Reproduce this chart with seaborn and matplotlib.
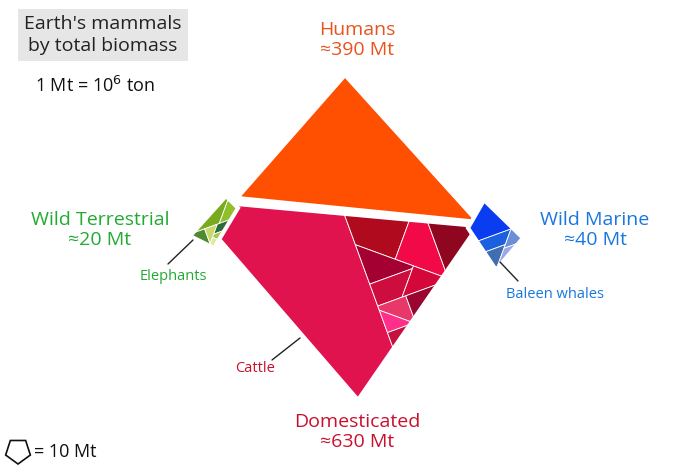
import numpy as np
import matplotlib.pyplot as plt
import seaborn as sb
from matplotlib.patches import Polygon, RegularPolygon

sb.set_theme(style="white")
plt.rcParams['font.family'] = ['Open Sans', 'DejaVu Sans']

# biomass in Mt
human_vals = [390]
dom_names = ['cattle', 'buffalo', 'pigs', 'sheep', 'goats', 'horses', 'camels', 'donkeys', 'dogs', 'cats', 'other']
dom_vals = [420, 45, 40, 30, 25, 20, 15, 12, 10, 8, 5]
dom_colors = ['#e0134f', '#b00a1e', '#f20a48', '#8e0620', '#a40032', '#cc0d3e', '#d4073a',
              '#e8386a', '#9a0530', '#ff2f8a', '#c4123f']
wt_vals = [7, 4, 3, 2, 2, 1, 1]
wt_colors = ['#77aa1c', '#8fbf2a', '#4e8a2f', '#c8d86a', '#2e6b3a', '#a9c94a', '#e0e8a0']
wm_vals = [20, 8, 5, 4, 3]
wm_colors = ['#0a3cf0', '#1a60e0', '#3f6fb0', '#6a8fd8', '#9aa8e8']


def area(p):
    x, y = p[:, 0], p[:, 1]
    return 0.5 * abs(np.dot(x, np.roll(y, 1)) - np.dot(y, np.roll(x, 1)))


def clip(p, n, c):
    # keep points with dot(n, pt) <= c
    out = []
    m = len(p)
    for i in range(m):
        a, b = p[i], p[(i + 1) % m]
        da, db = a @ n - c, b @ n - c
        if da <= 0:
            out.append(a)
        if da * db < 0:
            t = da / (da - db)
            out.append(a + t * (b - a))
    return np.array(out)


def split(poly, vals, depth=0):
    if len(vals) == 1:
        return [poly]
    tot = sum(vals)
    k = 1
    for k in range(1, len(vals)):
        if sum(vals[:k]) >= tot / 2:
            break
    frac = sum(vals[:k]) / tot
    ext = poly.max(0) - poly.min(0)
    ang = 0.0 if ext[0] > ext[1] else np.pi / 2
    ang += 0.35 * (1 if depth % 2 else -1)
    n = np.array([np.cos(ang), np.sin(ang)])
    proj = poly @ n
    lo, hi = proj.min(), proj.max()
    A = area(poly)
    for _ in range(50):
        mid = (lo + hi) / 2
        part = clip(poly, n, mid)
        if len(part) < 3 or area(part) < frac * A:
            lo = mid
        else:
            hi = mid
    p1 = clip(poly, n, mid)
    p2 = clip(poly, -n, -mid)
    return split(p1, vals[:k], depth + 1) + split(p2, vals[k:], depth + 1)


fig = plt.figure(figsize=(6.8, 4.72), dpi=100)
ax = fig.add_axes([0, 0, 1, 1])
ax.set_xlim(0, 680)
ax.set_ylim(472, 0)
ax.axis('off')

groups = [
    (np.array([[345, 75], [478, 222], [237, 198]]), human_vals, ['#ff4f00']),
    (np.array([[237, 204], [478, 226], [358, 400], [218, 238]]), dom_vals, dom_colors),
    (np.array([[226, 196], [238, 208], [214, 248], [190, 236]]), wt_vals, wt_colors),
    (np.array([[484, 200], [523, 238], [496, 270], [468, 228]]), wm_vals, wm_colors),
]
for outline, vals, cols in groups:
    cells = split(outline.astype(float), sorted(vals, reverse=True))
    for cell, col in zip(cells, cols):
        ax.add_patch(Polygon(cell, closed=True, fc=col, ec='white', lw=0.6))
    ax.add_patch(Polygon(outline, closed=True, fc='none', ec='white', lw=3))

ax.text(103, 35, "Earth's mammals\nby total biomass", ha='center', va='center', fontsize=14,
        color='#222222', linespacing=1.3,
        bbox=dict(fc='#e6e6e6', ec='none', boxstyle='square,pad=0.3'))
ax.text(95, 86, "1 Mt = 10$^6$ ton", ha='center', va='center', fontsize=13, color='#111111')
ax.text(357, 40, "Humans\n≈390 Mt", ha='center', va='center', fontsize=14, color='#e8541c')
ax.text(100, 230, "Wild Terrestrial\n≈20 Mt", ha='center', va='center', fontsize=14, color='#22aa33')
ax.text(595, 230, "Wild Marine\n≈40 Mt", ha='center', va='center', fontsize=14, color='#1a77dd')
ax.text(357, 432, "Domesticated\n≈630 Mt", ha='center', va='center', fontsize=14, color='#c8102e')

ax.plot([193, 168], [240, 264], color='#222222', lw=1)
ax.text(173, 276, "Elephants", ha='center', va='center', fontsize=10.5, color='#22aa33')
ax.plot([500, 518], [262, 281], color='#222222', lw=1)
ax.text(555, 294, "Baleen whales", ha='center', va='center', fontsize=10.5, color='#1a77dd')
ax.plot([300, 272], [338, 360], color='#222222', lw=1)
ax.text(255, 368, "Cattle", ha='center', va='center', fontsize=10.5, color='#c8102e')

ax.add_patch(RegularPolygon((18, 451), 5, radius=13, fc='white', ec='#111111', lw=1.2))
ax.text(34, 452, "= 10 Mt", ha='left', va='center', fontsize=13, color='#111111')

fig.savefig('out.png', dpi=100)
